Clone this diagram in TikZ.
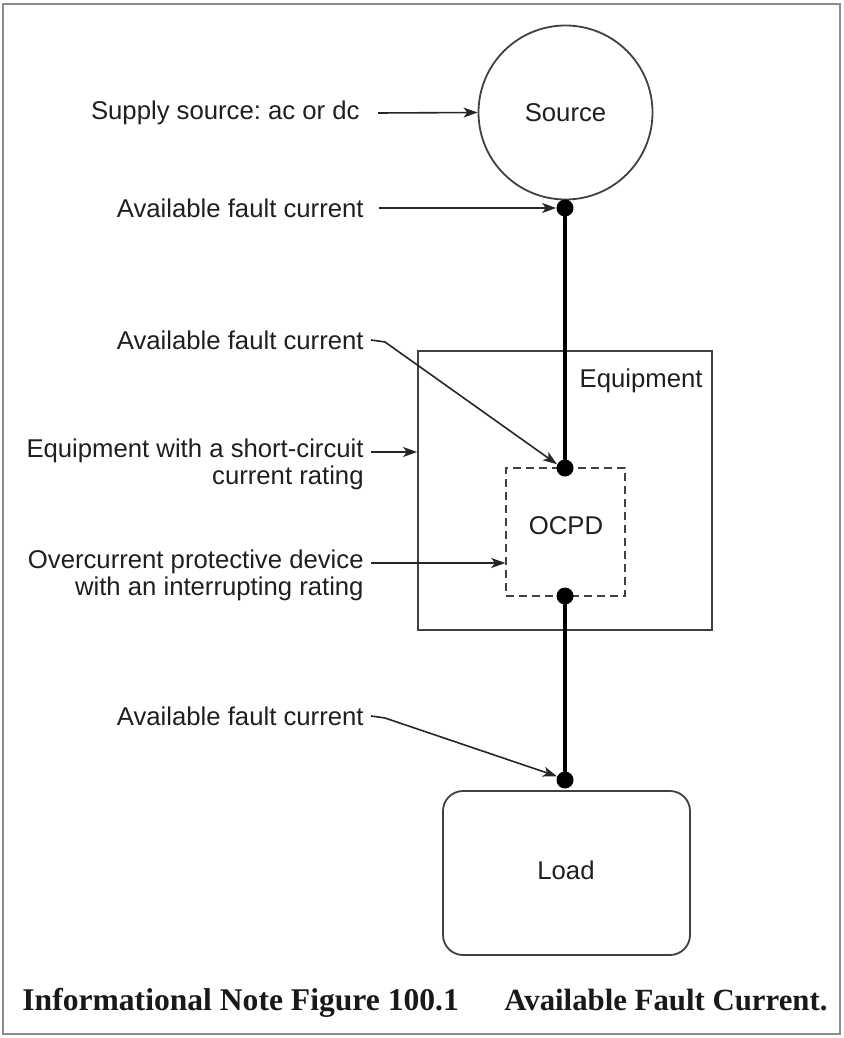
\documentclass[tikz,border=0pt]{standalone}
\usepackage{fontspec}
\setmainfont{Liberation Sans}
\newfontfamily\capfont{Liberation Serif}
\usetikzlibrary{arrows.meta}
\frenchspacing
\begin{document}
\begin{tikzpicture}[x=0.5pt,y=-0.5pt,
  lbl/.style={font=\fontsize{12.85}{13.6}\selectfont, text=black!88, inner sep=0pt, align=right},
  arr/.style={-{Stealth[length=7pt,width=5pt,inset=1.8pt]}, line width=0.8pt, draw=black!85},
  box/.style={draw=black!75, line width=0.9pt},
  dot/.style={circle, fill=black, inner sep=0pt, minimum size=8.5pt},
  wire/.style={line width=1.8pt},
  captxt/.style={font=\capfont\bfseries\fontsize{15.8}{18}\selectfont, inner sep=0pt, anchor=base west, text=black!90}]
\useasboundingbox (0,0) rectangle (843,1038);
\draw[black!45, line width=1pt] (3,4) rectangle (840,1034);

% main shapes
\node[circle, box, minimum size=87pt, inner sep=0pt, lbl, align=center] (src) at (565.5,112.5) {Source};
\node[box, minimum width=147pt, minimum height=139.5pt, inner sep=0pt] (equip) at (565,490.5) {};
\node[lbl, anchor=east] (eqlab) at (703,381) {Equipment};
\node[draw=black!75, dashed, dash pattern=on 4pt off 2.5pt, line width=0.75pt, minimum width=59.5pt, minimum height=64pt, inner sep=0pt] (ocpd) at (565.5,532) {};
\node[lbl, align=center] (ocpdlab) at (566,526) {OCPD};
\node[box, rounded corners=10pt, minimum width=123.5pt, minimum height=82pt, inner sep=0pt] (load) at (566.5,873) {};
\node[lbl, align=center] (loadlab) at (566,870) {Load};

% wires and dots
\coordinate (w1) at (565,208);
\coordinate (w2) at (565,468);
\coordinate (w3) at (565,596);
\coordinate (w4) at (565,780);
\draw[wire] (w1) -- (w2);
\draw[wire] (w3) -- (w4);
\node[dot] (d1) at (w1) {};
\node[dot] (d2) at (w2) {};
\node[dot] (d3) at (w3) {};
\node[dot] (d4) at (w4) {};

% labels
\node[lbl, anchor=east] (lab1) at (360,113) {Supply source: ac or dc};
\node[lbl, anchor=east] (lab2) at (364,208) {Available fault current};
\node[lbl, anchor=east] (lab3) at (364,340) {Available fault current};
\node[lbl, anchor=east] (lab4) at (364,464) {Equipment with a short-circuit\\current rating};
\node[lbl, anchor=east] (lab5) at (364,575) {Overcurrent protective device\\with an interrupting rating};
\node[lbl, anchor=east] (lab6) at (364,716) {Available fault current};

% leaders
\draw[arr] ([xshift=9pt]lab1.east) -- (src.west);
\draw[arr] ([xshift=7.5pt]lab2.east) -- (d1.west);
\draw[arr] ([xshift=3.5pt]lab3.east) -- ++(14,2) -- (d2.155);
\coordinate (a4) at (371,452);
\draw[arr] (a4) -- (a4 -| equip.west);
\coordinate (a5) at (371,563);
\draw[arr] (a5) -- (a5 -| ocpd.west);
\draw[arr] ([xshift=3.5pt]lab6.east) -- ++(14,2) -- (d4.155);

% caption
\node[captxt] (cap1) at (22,1010) {Informational Note Figure 100.1};
\node[captxt, font=\capfont\bfseries\fontsize{15.4}{18}\selectfont] (cap2) at (504,1010) {Available Fault Current.};
\end{tikzpicture}
\end{document}
